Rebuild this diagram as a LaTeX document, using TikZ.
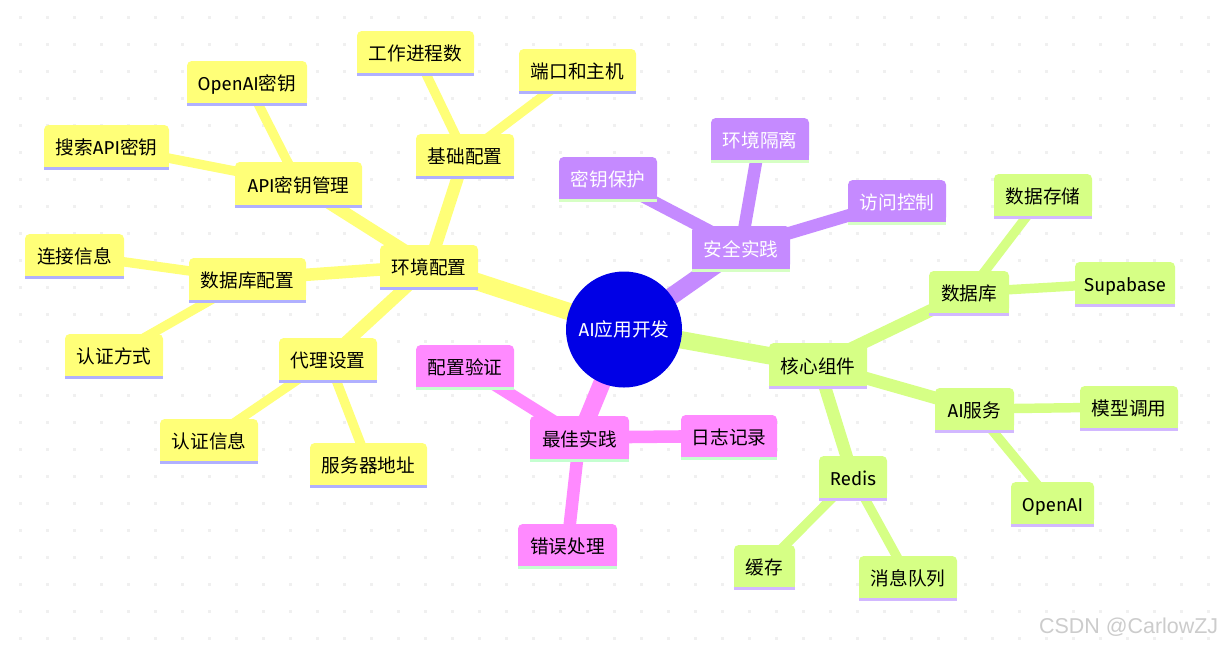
\documentclass[tikz,border=0pt]{standalone}
\usepackage{fontspec}
\setmainfont{Fira Sans}
\newfontfamily\cjkfont{Noto Sans CJK SC}
\newfontfamily\latfont{Fira Sans}
\newfontfamily\wmfont{Liberation Sans}
\newcommand{\la}[1]{{\latfont #1}}
\usetikzlibrary{calc}
\pgfdeclarelayer{gridlayer}
\pgfdeclarelayer{edgelayer}
\pgfsetlayers{gridlayer,edgelayer,main}
\definecolor{yel}{HTML}{FFFF78}
\definecolor{yelS}{HTML}{B0B0FF}
\definecolor{pur}{HTML}{C58AFF}
\definecolor{purS}{HTML}{D6FFC4}
\definecolor{grn}{HTML}{D6FF85}
\definecolor{grnS}{HTML}{D2B8FF}
\definecolor{pnk}{HTML}{FF8AFF}
\definecolor{pnkS}{HTML}{C4FFD0}
\definecolor{rootblue}{HTML}{0000E6}
\tikzset{
  x=0.75pt,y=-0.75pt,
  mmbox/.style={rectangle,rounded corners=3.5pt,inner sep=0pt,
    text height=13.5pt,text depth=0.7pt,
    font=\cjkfont\fontsize{14}{16}\selectfont},
  yelnode/.style={mmbox,fill=yel,text=black},
  purnode/.style={mmbox,fill=pur,text=white},
  grnnode/.style={mmbox,fill=grn,text=black},
  pnknode/.style={mmbox,fill=pnk,text=black},
  rootnode/.style={circle,fill=rootblue,text=white,inner sep=0pt,minimum size=87pt,
    font=\cjkfont\fontsize{14}{16}\selectfont},
  griddot/.style={fill=black!6},
  e1/.style={line width=13pt,line cap=butt},
  e2/.style={line width=9.4pt,line cap=butt},
  e3/.style={line width=7.1pt,line cap=butt},
  yeledge/.style={draw=yel},
  puredge/.style={draw=pur},
  grnedge/.style={draw=grn},
  pnkedge/.style={draw=pnk},
}
% name, x1, y1, x2, y2, colour key, text
\newcommand{\mm}[7]{%
  \pgfmathsetmacro{\mmcx}{(#2+#4)/2}%
  \pgfmathsetmacro{\mmcy}{(#3+#5-3)/2}%
  \pgfmathsetmacro{\mmw}{(#4-#2)*0.75}%
  \pgfmathsetmacro{\mmh}{(#5-#3-3)*0.75}%
  \node[#6node,minimum width=\mmw pt,minimum height=\mmh pt] (#1) at (\mmcx,\mmcy) {#7};
  \fill[#6] ($(#1.south west)+(0,-6)$) rectangle (#1.south east);
  \fill[#6S] (#1.south west) rectangle ($(#1.south east)+(0,3)$);
}
\begin{document}
\begin{tikzpicture}
\useasboundingbox (0,0) rectangle (1223,647);
\begin{pgfonlayer}{gridlayer}
\fill[white] (0,0) rectangle (1223,647);
\foreach \gx in {0,...,44}{
  \foreach \gy in {0,...,23}{
    \fill[griddot] ({18.5+27*\gx},{15.5+27*\gy}) rectangle ++(3,3);
  }
}
\end{pgfonlayer}

\node[rootnode] (root) at (624,329.5) {\la{AI}应用开发};

% yellow branch
\mm{env}{380}{245}{478}{290}{yel}{环境配置}
\mm{api}{235}{162}{362}{208}{yel}{\la{API}密钥管理}
\mm{oaikey}{187}{61}{307}{106}{yel}{\la{OpenAI}密钥}
\mm{searchkey}{44}{125}{169}{170}{yel}{搜索\la{API}密钥}
\mm{basic}{416}{134}{514}{179}{yel}{基础配置}
\mm{workers}{357}{31}{474}{76}{yel}{工作进程数}
\mm{port}{519}{49}{636}{94}{yel}{端口和主机}
\mm{dbconf}{189}{258}{306}{303}{yel}{数据库配置}
\mm{conn}{25}{234}{124}{279}{yel}{连接信息}
\mm{authway}{65}{334}{163}{379}{yel}{认证方式}
\mm{proxy}{279}{338}{377}{383}{yel}{代理设置}
\mm{authinfo}{160}{419}{258}{464}{yel}{认证信息}
\mm{server}{310}{443}{427}{488}{yel}{服务器地址}

% purple branch
\mm{sec}{692}{226}{790}{272}{pur}{安全实践}
\mm{keyprot}{559}{157}{657}{202}{pur}{密钥保护}
\mm{isol}{711}{118}{809}{163}{pur}{环境隔离}
\mm{access}{848}{180}{946}{225}{pur}{访问控制}

% green branch
\mm{core}{769}{343}{867}{389}{grn}{核心组件}
\mm{db}{929}{271}{1009}{316}{grn}{数据库}
\mm{supa}{1075}{262}{1175}{307}{grn}{\la{Supabase}}
\mm{store}{994}{174}{1092}{219}{grn}{数据存储}
\mm{ai}{935}{388}{1014}{433}{grn}{\la{AI}服务}
\mm{model}{1080}{386}{1178}{431}{grn}{模型调用}
\mm{oai}{1011}{482}{1094}{527}{grn}{\la{OpenAI}}
\mm{redis}{819}{456}{887}{501}{grn}{\la{Redis}}
\mm{cache}{734}{545}{795}{590}{grn}{缓存}
\mm{queue}{859}{556}{957}{601}{grn}{消息队列}

% pink branch
\mm{best}{530}{416}{629}{462}{pnk}{最佳实践}
\mm{valid}{416}{345}{514}{390}{pnk}{配置验证}
\mm{logs}{681}{415}{777}{460}{pnk}{日志记录}
\mm{err}{518}{524}{617}{569}{pnk}{错误处理}

\begin{pgfonlayer}{edgelayer}
\draw[e1,yeledge] (root.center) -- (env.center);
\draw[e2,yeledge] (env.center) -- (api.center);
\draw[e2,yeledge] (env.center) -- (basic.center);
\draw[e2,yeledge] (env.center) -- (dbconf.center);
\draw[e2,yeledge] (env.center) -- (proxy.center);
\draw[e3,yeledge] (api.center) -- (oaikey.center);
\draw[e3,yeledge] (api.center) -- (searchkey.center);
\draw[e3,yeledge] (basic.center) -- (workers.center);
\draw[e3,yeledge] (basic.center) -- (port.center);
\draw[e3,yeledge] (dbconf.center) -- (conn.center);
\draw[e3,yeledge] (dbconf.center) -- (authway.center);
\draw[e3,yeledge] (proxy.center) -- (authinfo.center);
\draw[e3,yeledge] (proxy.center) -- (server.center);

\draw[e1,puredge] (root.center) -- (sec.center);
\draw[e2,puredge] (sec.center) -- (keyprot.center);
\draw[e2,puredge] (sec.center) -- (isol.center);
\draw[e2,puredge] (sec.center) -- (access.center);

\draw[e1,grnedge] (root.center) -- (core.center);
\draw[e2,grnedge] (core.center) -- (db.center);
\draw[e2,grnedge] (core.center) -- (ai.center);
\draw[e2,grnedge] (core.center) -- (redis.center);
\draw[e3,grnedge] (db.center) -- (supa.center);
\draw[e3,grnedge] (db.center) -- (store.center);
\draw[e3,grnedge] (ai.center) -- (model.center);
\draw[e3,grnedge] (ai.center) -- (oai.center);
\draw[e3,grnedge] (redis.center) -- (cache.center);
\draw[e3,grnedge] (redis.center) -- (queue.center);

\draw[e1,pnkedge] (root.center) -- (best.center);
\draw[e2,pnkedge] (best.center) -- (valid.center);
\draw[e2,pnkedge] (best.center) -- (logs.center);
\draw[e2,pnkedge] (best.center) -- (err.center);
\end{pgfonlayer}

\node[text=black!20,inner sep=0pt,anchor=east,font=\wmfont\fontsize{16.1}{20}\selectfont] (mark) at (1218.5,627.5) {CSDN @CarlowZJ};
\end{tikzpicture}
\end{document}
